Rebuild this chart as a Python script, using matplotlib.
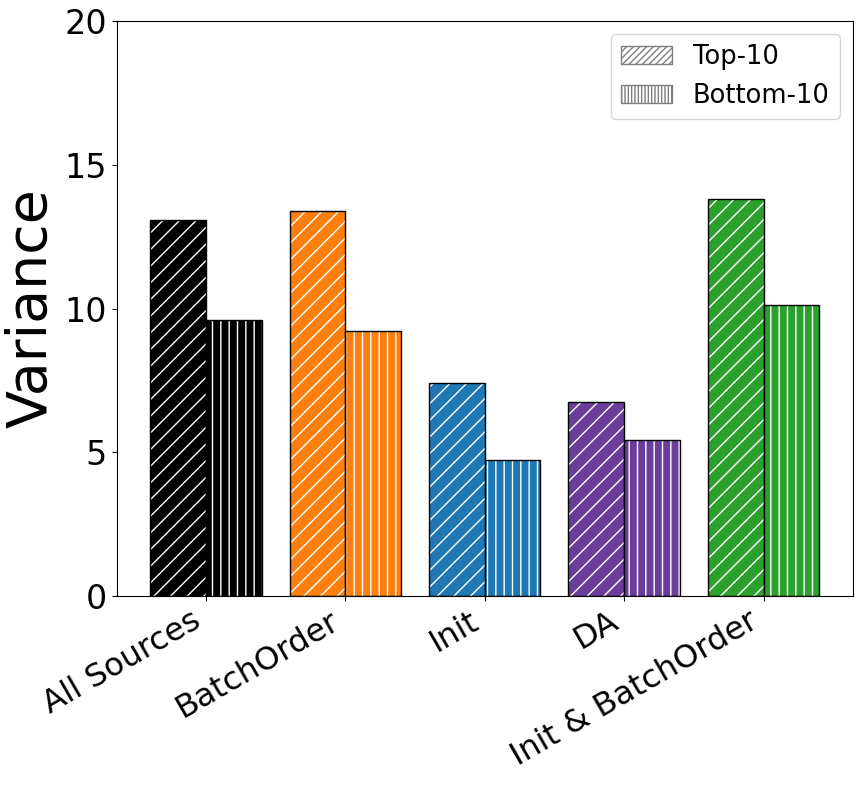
import numpy as np
import matplotlib
matplotlib.use("Agg")
import matplotlib.pyplot as plt
from matplotlib.patches import Patch

# Data
categories = ["All Sources", "BatchOrder", "Init", "DA", "Init & BatchOrder"]
top10 = [13.08, 13.39, 7.41, 6.76, 13.82]
bottom10 = [9.6, 9.21, 4.74, 5.43, 10.12]
colors = ["black", "#ff7f0e", "#1f77b4", "#6a3d9a", "#2ca02c"]

plt.rcParams["hatch.linewidth"] = 1.0

fig, ax = plt.subplots(figsize=(8.64, 7.87), dpi=100)
x = np.arange(len(categories))
width = 0.4

ax.bar(x - width / 2, top10, width, color=colors, edgecolor="black",
       hatch="//", linewidth=1.0)
ax.bar(x + width / 2, bottom10, width, color=colors, edgecolor="black",
       hatch="||", linewidth=1.0)

# hatch drawn in white inside the bars
for p in ax.patches:
    p._hatch_color = (1, 1, 1, 1)

ax.set_ylim(0, 20)
ax.set_yticks([0, 5, 10, 15, 20])
ax.set_xticks(x)
ax.set_xticklabels(categories, rotation=30, ha="right", fontsize=23)
ax.tick_params(axis="y", labelsize=24)
ax.set_ylabel("Variance", fontsize=40)

handles = [Patch(facecolor="white", edgecolor="gray", hatch="/////", label="Top-10"),
           Patch(facecolor="white", edgecolor="gray", hatch="|||||", label="Bottom-10")]
ax.legend(handles=handles, fontsize=18.5, loc="upper right")

fig.subplots_adjust(left=0.135, right=0.987, top=0.973, bottom=0.243)
fig.savefig("out.png", dpi=100)
